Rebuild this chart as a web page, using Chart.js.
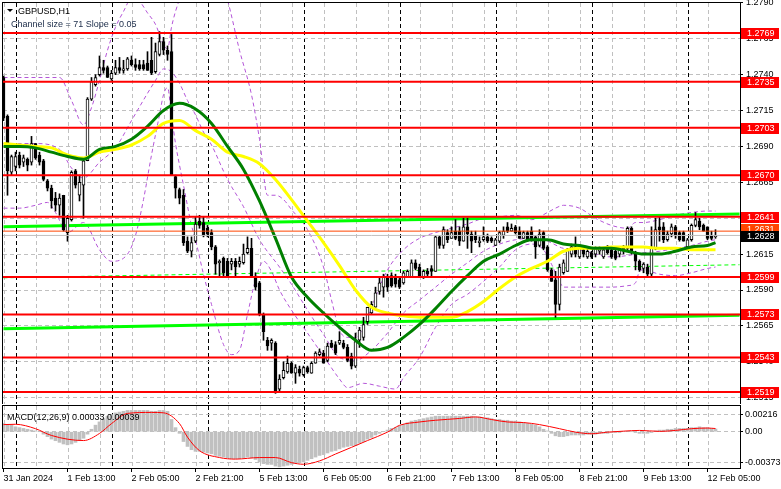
<!DOCTYPE html>
<html>
<head>
<meta charset="utf-8">
<script src="https://cdn.jsdelivr.net/npm/chart.js@4.4.1/dist/chart.umd.min.js"></script>
<style>
  html, body { margin: 0; padding: 0; background: #fff; }
  #wrap { position: relative; width: 781px; height: 489px; overflow: hidden; }
  #mainChart { position: absolute; left: 0; top: 0; }
  #macdChart { position: absolute; left: 0; top: 404px; }
</style>
</head>
<body>
<div id="wrap">
  <canvas id="mainChart" width="781" height="404"></canvas>
  <canvas id="macdChart" width="781" height="85"></canvas>
</div>
<script>
// GBPUSD H1 candles, bar 0 = 31 Jan 21:00
const opens = [
  1.2738,1.2711,1.2672,1.2676,1.2684,1.2679,1.2681,1.2679,1.2692,1.2684,
  1.2680,1.2666,1.2661,1.2654,1.2649,1.2656,1.2630,1.2639,1.2673,1.2656,
  1.2663,1.2680,1.2723,1.2733,1.2740,1.2745,1.2745,1.2737,1.2741,1.2745,
  1.2743,1.2744,1.2750,1.2747,1.2747,1.2747,1.2748,1.2750,1.2742,1.2754,
  1.2763,1.2757,1.2756,1.2669,1.2660,1.2656,1.2624,1.2617,1.2624,1.2638,
  1.2637,1.2633,1.2630,1.2620,1.2609,1.2612,1.2610,1.2608,1.2610,1.2608,
  1.2609,1.2616,1.2619,1.2599,1.2595,1.2573,1.2555,1.2553,1.2553,1.2521,
  1.2529,1.2533,1.2539,1.2532,1.2535,1.2531,1.2536,1.2532,1.2539,1.2545,
  1.2546,1.2541,1.2553,1.2552,1.2553,1.2553,1.2550,1.2544,1.2537,1.2555,
  1.2557,1.2568,1.2574,1.2578,1.2589,1.2592,1.2599,1.2600,1.2599,1.2597,
  1.2595,1.2599,1.2599,1.2609,1.2606,1.2599,1.2603,1.2605,1.2603,1.2627,
  1.2621,1.2630,1.2626,1.2631,1.2631,1.2624,1.2634,1.2629,1.2628,1.2623,
  1.2625,1.2627,1.2626,1.2621,1.2624,1.2628,1.2634,1.2631,1.2634,1.2631,
  1.2626,1.2630,1.2631,1.2627,1.2621,1.2630,1.2620,1.2604,1.2597,1.2580,
  1.2602,1.2603,1.2615,1.2620,1.2613,1.2618,1.2613,1.2616,1.2615,1.2617,
  1.2613,1.2619,1.2618,1.2617,1.2615,1.2619,1.2619,1.2633,1.2616,1.2610,
  1.2605,1.2606,1.2601,1.2619,1.2634,1.2634,1.2625,1.2629,1.2634,1.2630,
  1.2630,1.2620,1.2625,1.2635,1.2638,1.2635,1.2634,1.2628,1.2627
];
const highs = [
  1.2739,1.2712,1.2684,1.2686,1.2686,1.2684,1.2682,1.2697,1.2692,1.2686,
  1.2681,1.2667,1.2663,1.2658,1.2657,1.2656,1.2642,1.2673,1.2674,1.2670,
  1.2682,1.2724,1.2738,1.2740,1.2753,1.2750,1.2746,1.2743,1.2750,1.2752,
  1.2750,1.2752,1.2753,1.2751,1.2750,1.2750,1.2756,1.2766,1.2762,1.2770,
  1.2766,1.2760,1.2768,1.2670,1.2661,1.2660,1.2627,1.2627,1.2641,1.2642,
  1.2641,1.2635,1.2632,1.2621,1.2611,1.2613,1.2612,1.2612,1.2612,1.2613,
  1.2622,1.2627,1.2626,1.2602,1.2596,1.2574,1.2557,1.2556,1.2554,1.2531,
  1.2540,1.2544,1.2540,1.2538,1.2537,1.2537,1.2537,1.2540,1.2547,1.2549,
  1.2548,1.2553,1.2555,1.2554,1.2561,1.2555,1.2552,1.2546,1.2560,1.2564,
  1.2571,1.2578,1.2582,1.2592,1.2599,1.2601,1.2601,1.2602,1.2601,1.2599,
  1.2603,1.2604,1.2611,1.2611,1.2608,1.2604,1.2605,1.2607,1.2628,1.2628,
  1.2634,1.2632,1.2634,1.2639,1.2634,1.2640,1.2640,1.2631,1.2631,1.2627,
  1.2634,1.2629,1.2627,1.2626,1.2631,1.2634,1.2637,1.2636,1.2635,1.2634,
  1.2631,1.2631,1.2634,1.2628,1.2632,1.2631,1.2621,1.2605,1.2603,1.2608,
  1.2611,1.2619,1.2622,1.2627,1.2621,1.2620,1.2619,1.2617,1.2620,1.2620,
  1.2619,1.2621,1.2620,1.2618,1.2619,1.2621,1.2634,1.2634,1.2617,1.2611,
  1.2609,1.2608,1.2634,1.2640,1.2641,1.2637,1.2631,1.2636,1.2635,1.2631,
  1.2631,1.2626,1.2636,1.2644,1.2640,1.2636,1.2634,1.2631,1.2632
];
const lows = [
  1.2708,1.2656,1.2670,1.2673,1.2675,1.2676,1.2673,1.2677,1.2681,1.2677,
  1.2666,1.2659,1.2647,1.2645,1.2642,1.2631,1.2624,1.2638,1.2661,1.2652,
  1.2640,1.2680,1.2722,1.2732,1.2739,1.2741,1.2738,1.2736,1.2740,1.2741,
  1.2741,1.2743,1.2746,1.2743,1.2743,1.2743,1.2743,1.2740,1.2741,1.2753,
  1.2754,1.2750,1.2670,1.2654,1.2650,1.2621,1.2616,1.2613,1.2623,1.2633,
  1.2627,1.2627,1.2618,1.2601,1.2599,1.2599,1.2599,1.2604,1.2600,1.2606,
  1.2608,1.2615,1.2599,1.2590,1.2572,1.2555,1.2548,1.2548,1.2518,1.2519,
  1.2528,1.2532,1.2532,1.2525,1.2530,1.2530,1.2532,1.2532,1.2539,1.2544,
  1.2539,1.2540,1.2550,1.2545,1.2552,1.2549,1.2540,1.2535,1.2536,1.2550,
  1.2555,1.2566,1.2573,1.2578,1.2587,1.2585,1.2589,1.2592,1.2592,1.2591,
  1.2594,1.2599,1.2599,1.2604,1.2599,1.2598,1.2600,1.2599,1.2603,1.2619,
  1.2619,1.2623,1.2626,1.2625,1.2621,1.2624,1.2619,1.2616,1.2623,1.2620,
  1.2624,1.2623,1.2623,1.2621,1.2623,1.2626,1.2630,1.2631,1.2629,1.2626,
  1.2626,1.2624,1.2624,1.2612,1.2620,1.2618,1.2603,1.2596,1.2571,1.2576,
  1.2601,1.2603,1.2613,1.2613,1.2612,1.2613,1.2612,1.2612,1.2613,1.2615,
  1.2612,1.2615,1.2612,1.2611,1.2613,1.2615,1.2618,1.2615,1.2604,1.2603,
  1.2602,1.2599,1.2599,1.2618,1.2624,1.2623,1.2624,1.2627,1.2626,1.2624,
  1.2624,1.2619,1.2624,1.2634,1.2632,1.2631,1.2625,1.2625,1.2626
];
const closes = [
  1.2710,1.2673,1.2683,1.2683,1.2677,1.2682,1.2677,1.2692,1.2682,1.2679,
  1.2667,1.2661,1.2652,1.2649,1.2654,1.2632,1.2640,1.2672,1.2663,1.2665,
  1.2680,1.2723,1.2735,1.2738,1.2745,1.2743,1.2738,1.2741,1.2745,1.2743,
  1.2744,1.2751,1.2747,1.2745,1.2744,1.2744,1.2743,1.2741,1.2756,1.2763,
  1.2757,1.2754,1.2670,1.2661,1.2654,1.2623,1.2617,1.2623,1.2636,1.2635,
  1.2628,1.2629,1.2620,1.2608,1.2610,1.2602,1.2599,1.2610,1.2606,1.2610,
  1.2615,1.2619,1.2599,1.2592,1.2573,1.2561,1.2551,1.2555,1.2519,1.2528,
  1.2534,1.2539,1.2532,1.2536,1.2532,1.2536,1.2533,1.2539,1.2546,1.2547,
  1.2539,1.2551,1.2550,1.2546,1.2555,1.2550,1.2541,1.2537,1.2554,1.2562,
  1.2566,1.2578,1.2580,1.2588,1.2595,1.2599,1.2592,1.2593,1.2594,1.2592,
  1.2602,1.2603,1.2609,1.2605,1.2599,1.2603,1.2601,1.2603,1.2627,1.2621,
  1.2632,1.2625,1.2630,1.2626,1.2624,1.2634,1.2629,1.2624,1.2625,1.2624,
  1.2627,1.2624,1.2624,1.2625,1.2630,1.2631,1.2631,1.2633,1.2630,1.2626,
  1.2630,1.2625,1.2625,1.2620,1.2629,1.2619,1.2604,1.2596,1.2580,1.2606,
  1.2609,1.2618,1.2620,1.2615,1.2619,1.2615,1.2617,1.2613,1.2619,1.2619,
  1.2618,1.2616,1.2613,1.2612,1.2619,1.2617,1.2633,1.2616,1.2610,1.2604,
  1.2608,1.2601,1.2619,1.2632,1.2632,1.2625,1.2629,1.2634,1.2628,1.2625,
  1.2624,1.2625,1.2635,1.2639,1.2634,1.2631,1.2626,1.2626,1.2628
];

// moving averages, read every 4 bars
const maIdx = [0,4,8,12,16,20,24,28,32,36,40,44,48,52,56,60,64,68,72,76,80,84,88,92,96,100,104,108,112,116,120,124,128,132,136,140,144,148,152,156,160,164,168,172,176,178];
const greenMa = [1.2690,1.2690,1.2689,1.2686,1.2683,1.2681,1.2688,1.2690,1.2695,1.2704,1.2715,1.2720,1.2716,1.2706,1.2690,1.2674,1.2652,1.2626,1.2599,1.2585,1.2574,1.2564,1.2555,1.2548,1.2550,1.2557,1.2566,1.2577,1.2589,1.2600,1.2610,1.2615,1.2621,1.2625,1.2625,1.2622,1.2621,1.2619,1.2619,1.2617,1.2615,1.2615,1.2617,1.2620,1.2621,1.2623];
const yellowMa = [1.2692,1.2691,1.2690,1.2689,1.2684,1.2682,1.2686,1.2688,1.2691,1.2697,1.2706,1.2708,1.2701,1.2695,1.2686,1.2683,1.2678,1.2667,1.2653,1.2638,1.2623,1.2607,1.2590,1.2578,1.2574,1.2572,1.2571,1.2571,1.2571,1.2575,1.2582,1.2591,1.2599,1.2605,1.2610,1.2617,1.2619,1.2619,1.2620,1.2620,1.2620,1.2619,1.2619,1.2618,1.2618,1.2618];

// purple dashed bands (upper, middle, lower), read at irregular bars
const upperIdx = [0,8,14,17,20,22,24,26,28,30,32,34,36,38,40,41,42,43,45,48,52,55,56,59,62,64,66,68,70,72,76,80,82,84,86,88,90,92,96,100,104,108,112,116,120,124,128,132,136,138,140,144,148,152,156,158,160,164,168,172,176,178];
const upperBand = [1.2738,1.2738,1.2738,1.2722,1.2705,1.2717,1.2736,1.2757,1.2773,1.2784,1.2793,1.2791,1.2783,1.2775,1.2761,1.2758,1.2773,1.2784,1.2799,1.2813,1.2813,1.2800,1.2792,1.2757,1.2726,1.2695,1.2656,1.2656,1.2653,1.2646,1.2632,1.2606,1.2583,1.2562,1.2557,1.2557,1.2564,1.2578,1.2604,1.2618,1.2626,1.2630,1.2633,1.2636,1.2640,1.2641,1.2642,1.2639,1.2644,1.2647,1.2649,1.2647,1.2640,1.2635,1.2633,1.2637,1.2637,1.2639,1.2642,1.2644,1.2645,1.2645];
const midIdx = [0,8,14,17,20,24,28,32,36,38,40,42,44,46,48,50,52,56,60,64,69,72,76,80,84,88,92,96,100,104,108,112,116,120,124,128,132,136,140,144,148,152,156,160,164,168,172,176,178];
const midBand = [1.2692,1.2692,1.2688,1.2675,1.2668,1.2679,1.2689,1.2708,1.2727,1.2736,1.2744,1.2742,1.2734,1.2722,1.2712,1.2700,1.2691,1.2667,1.2648,1.2625,1.2606,1.2594,1.2576,1.2559,1.2543,1.2541,1.2548,1.2560,1.2574,1.2583,1.2592,1.2601,1.2609,1.2617,1.2622,1.2625,1.2626,1.2624,1.2619,1.2618,1.2615,1.2613,1.2614,1.2616,1.2617,1.2619,1.2621,1.2624,1.2625];
const lowerIdx = [0,4,8,11,13,16,20,24,27,31,33,35,37,39,40,41,42,43,44,45,47,48,50,52,55,57,59,61,63,65,67,69,72,76,80,84,86,90,94,98,100,104,108,112,116,120,124,128,132,135,137,139,140,144,148,152,156,158,159,160,164,168,172,176,178];
const lowerBand = [1.2647,1.2647,1.2649,1.2651,1.2644,1.2630,1.2637,1.2618,1.2610,1.2615,1.2628,1.2653,1.2684,1.2712,1.2726,1.2731,1.2712,1.2692,1.2677,1.2663,1.2635,1.2625,1.2601,1.2580,1.2552,1.2545,1.2548,1.2573,1.2597,1.2610,1.2603,1.2590,1.2576,1.2560,1.2544,1.2528,1.2522,1.2525,1.2523,1.2521,1.2529,1.2543,1.2564,1.2580,1.2587,1.2596,1.2606,1.2618,1.2622,1.2618,1.2608,1.2596,1.2592,1.2592,1.2592,1.2592,1.2593,1.2595,1.2603,1.2604,1.2601,1.2600,1.2602,1.2605,1.2606];

// regression channel (start, end)
const channelIdx = [0, 184];
const channelUpper = [1.2634, 1.2643];
const channelMid = [1.25985, 1.26076];
const channelLower = [1.2563, 1.25724];

const levels = [1.2769, 1.2735, 1.2703, 1.2670, 1.2641, 1.2599, 1.2573, 1.2543, 1.2519];
const askPrice = 1.2631;
const bidPrice = 1.2628;
const priceTicks = [1.2790,1.2765,1.2740,1.2715,1.2690,1.2665,1.2640,1.2615,1.2590,1.2565,1.2540,1.2515];

// MACD(12,26,9)
const macdMain = [
  0.0010,0.0009,0.0008,0.0006,0.0005,0.0004,0.0003,0.0002,0.0001,0.0000,
  -0.0003,-0.0006,-0.0009,-0.0011,-0.0013,-0.0015,-0.0016,-0.0015,-0.0013,-0.0011,
  -0.0008,-0.0003,0.0003,0.0008,0.0012,0.0016,0.0019,0.0021,0.0023,0.0024,
  0.0025,0.0026,0.0026,0.0026,0.0026,0.0026,0.0026,0.0025,0.0025,0.0026,
  0.0026,0.0025,0.0015,0.0005,-0.0002,-0.0012,-0.0018,-0.0022,-0.0024,-0.0024,
  -0.0025,-0.0026,-0.0027,-0.0029,-0.0030,-0.0031,-0.0032,-0.0033,-0.0033,-0.0033,
  -0.0032,-0.0031,-0.0032,-0.0034,-0.0037,-0.0039,-0.0040,-0.0040,-0.0042,-0.0043,
  -0.0042,-0.0041,-0.0040,-0.0039,-0.0038,-0.0037,-0.0035,-0.0033,-0.0031,-0.0029,
  -0.0028,-0.0026,-0.0024,-0.0023,-0.0021,-0.0019,-0.0018,-0.0017,-0.0017,-0.0014,
  -0.0012,-0.0009,-0.0007,-0.0004,-0.0002,0.0000,0.0002,0.0004,0.0005,0.0007,
  0.0009,0.0011,0.0013,0.0014,0.0015,0.0016,0.0017,0.0018,0.0019,0.0019,
  0.0019,0.0019,0.0019,0.0019,0.0019,0.0019,0.0019,0.0019,0.0018,0.0018,
  0.0017,0.0017,0.0016,0.0015,0.0015,0.0014,0.0014,0.0013,0.0013,0.0012,
  0.0011,0.0010,0.0009,0.0008,0.0006,0.0003,0.0001,-0.0002,-0.0005,-0.0006,
  -0.0006,-0.0005,-0.0004,-0.0004,-0.0004,-0.0004,-0.0003,-0.0003,-0.0003,-0.0002,
  -0.0002,-0.0002,-0.0001,-0.0001,-0.0001,0.0000,0.0000,0.0000,-0.0001,-0.0002,
  -0.0002,-0.0002,-0.0001,0.0001,0.0002,0.0002,0.0003,0.0003,0.0004,0.0004,
  0.0004,0.0004,0.0005,0.0005,0.0006,0.0005,0.0005,0.0004,0.00033
];
const signalIdx = [0,3,8,12,20,24,27,31,37,40,44,46,49,54,58,64,68,72,75,79,83,87,91,96,99,104,108,114,118,122,126,130,134,139,143,147,151,155,159,164,168,172,176,178];
const signalVals = [0.00087,0.00091,0.00037,-0.00046,-0.00108,-0.00021,0.00099,0.00224,0.00236,0.00231,0.00099,-0.00067,-0.00232,-0.00316,-0.00335,-0.00316,-0.00316,-0.00378,-0.00398,-0.00357,-0.00273,-0.00191,-0.00108,-0.00005,0.00078,0.00119,0.0014,0.00162,0.00181,0.00149,0.00119,0.00112,0.00087,0.00037,-0.00005,-0.00025,-0.00005,0.00007,0.00016,0.00004,0.00016,0.00037,0.00045,0.00039];
const macdTicks = [0.00216, 0, -0.00373];

const labelIdx = [0,16,32,48,64,80,96,112,128,144,160,176];
const timeLabels = ['31 Jan 2024','1 Feb 13:00','2 Feb 05:00','2 Feb 21:00','5 Feb 13:00','6 Feb 05:00','6 Feb 21:00','7 Feb 13:00','8 Feb 05:00','8 Feb 21:00','9 Feb 13:00','12 Feb 05:00'];
const dayStarts = [3,27,51,75,99,123,147,171];

const FONT = "'Liberation Sans', Arial, sans-serif";
Chart.defaults.font.family = FONT;
Chart.defaults.font.size = 9;
Chart.defaults.color = '#000';

const xMin = -0.125, xMax = 184.125;
const gridTicks = [];
for (let i = 0; i < 184; i += 8) gridTicks.push(i + 0.25);
dayStarts.forEach(d => gridTicks.push(d + 0.25));
gridTicks.sort((a, b) => a - b);

const isDay = v => dayStarts.includes(v - 0.25);

function xScale(extra) {
  return Object.assign({
    type: 'linear', min: xMin, max: xMax, offset: false,
    afterBuildTicks: s => { s.ticks = gridTicks.map(v => ({ value: v })); },
    afterFit: s => { s.paddingLeft = 0; s.paddingRight = 0; },
    ticks: { display: false },
    grid: { offset: false, drawTicks: false, lineWidth: 1,
            color: c => isDay(c.tick.value) ? '#000' : '#c0c0c0' },
    border: { display: false, dash: [4, 3] }
  }, extra || {});
}

function pts(idx, vals) { return idx.map((x, k) => ({ x: x, y: vals[k] })); }
function hline(v, color, width, dash, order) {
  return { type: 'line', data: [{ x: xMin, y: v }, { x: xMax, y: v }], borderColor: color,
           borderWidth: width, borderDash: dash || [], pointRadius: 0, order: order };
}
function band(idx, vals) {
  return { type: 'line', data: pts(idx, vals), borderColor: '#b455d8', borderWidth: 1, borderDash: [4, 3],
           pointRadius: 0, cubicInterpolationMode: 'monotone', order: 9 };
}

const mainDeco = {
  id: 'mainDeco',
  afterDraw(chart) {
    const { ctx, chartArea: a } = chart;
    const y = chart.scales.y;
    ctx.save();
    ctx.strokeStyle = '#000';
    ctx.lineWidth = 1;
    ctx.strokeRect(a.left - 0.5, a.top - 0.5, a.right - a.left + 1, a.bottom - a.top + 1);
    ctx.font = '9px ' + FONT;
    ctx.textBaseline = 'middle';
    const box = (v, bg, shift) => {
      const py = Math.round(y.getPixelForValue(v)) + (shift || 0);
      ctx.fillStyle = bg;
      ctx.fillRect(a.right + 1, py - 5, 38, 11);
      ctx.fillStyle = '#fff';
      ctx.fillText(v.toFixed(4), a.right + 7, py + 1);
    };
    levels.forEach(v => box(v, '#ff0000'));
    box(askPrice, '#ff4500', -2);
    box(bidPrice, '#000000', 1);

    ctx.fillStyle = '#000';
    ctx.beginPath();
    ctx.moveTo(7, 9); ctx.lineTo(13, 9); ctx.lineTo(10, 12); ctx.closePath();
    ctx.fill();
    ctx.textBaseline = 'alphabetic';
    ctx.fillText('GBPUSD,H1', 18, 14);
    ctx.fillStyle = '#1a2b48';
    ctx.fillText('Channel size = 71 Slope = 0.05', 11, 27);
    ctx.restore();
  }
};

const yMax = 1.27899, yMin = 1.25106;

new Chart(document.getElementById('mainChart'), {
  type: 'line',
  data: {
    datasets: [
      band(upperIdx, upperBand),
      band(midIdx, midBand),
      band(lowerIdx, lowerBand),
      { type: 'line', data: pts(channelIdx, channelUpper), borderColor: '#00ff00', borderWidth: 3, pointRadius: 0, order: 8 },
      { type: 'line', data: pts(channelIdx, channelMid), borderColor: '#00ff00', borderWidth: 1, borderDash: [4, 3], pointRadius: 0, order: 8 },
      { type: 'line', data: pts(channelIdx, channelLower), borderColor: '#00ff00', borderWidth: 3, pointRadius: 0, order: 8 },
      { type: 'bar', data: highs.map((h, i) => ({ x: i, y: [lows[i], h] })), backgroundColor: '#000', barThickness: 1, grouped: false, order: 7 },
      { type: 'bar', data: opens.map((o, i) => ({ x: i, y: [o, closes[i]] })),
        backgroundColor: opens.map((o, i) => closes[i] >= o ? '#ffffff' : '#000000'),
        borderColor: '#000', borderWidth: 1, borderSkipped: false, barThickness: 3, grouped: false, order: 6 },
      { type: 'line', data: pts(maIdx, yellowMa), borderColor: '#ffff00', borderWidth: 3, pointRadius: 0, cubicInterpolationMode: 'monotone', order: 5 },
      { type: 'line', data: pts(maIdx, greenMa), borderColor: '#008000', borderWidth: 3, pointRadius: 0, cubicInterpolationMode: 'monotone', order: 4 },
      ...levels.map(v => hline(v, '#ff0000', 2, [], 3)),
      hline(askPrice, '#ff4500', 1, [], 2),
      hline(bidPrice, '#c0c0c0', 1, [], 2)
    ]
  },
  options: {
    responsive: false, animation: false, events: [],
    layout: { padding: { left: 3, top: 3, right: 0, bottom: 0 } },
    plugins: { legend: { display: false }, tooltip: { enabled: false } },
    scales: {
      x: xScale(),
      y: {
        type: 'linear', position: 'right', min: yMin, max: yMax, beginAtZero: false,
        afterBuildTicks: s => { s.ticks = priceTicks.map(v => ({ value: v })); },
        afterFit: s => { s.width = 41; s.paddingTop = 0; s.paddingBottom = 0; },
        ticks: { callback: v => v.toFixed(4), padding: 3, color: '#000' },
        grid: { color: '#c0c0c0', tickColor: '#000', tickLength: 3, tickBorderDash: [] },
        border: { display: false, dash: [4, 3] }
      }
    }
  },
  plugins: [mainDeco]
});

const macdDeco = {
  id: 'macdDeco',
  afterDraw(chart) {
    const { ctx, chartArea: a } = chart;
    ctx.save();
    ctx.strokeStyle = '#000';
    ctx.lineWidth = 1;
    ctx.strokeRect(a.left - 0.5, a.top - 0.5, a.right - a.left + 1, a.bottom - a.top + 1);
    ctx.font = '9px ' + FONT;
    ctx.fillStyle = '#000';
    ctx.fillText('MACD(12,26,9) 0.00033 0.00039', 7, 16);
    ctx.restore();
  }
};

const labelTicks = labelIdx.slice();
new Chart(document.getElementById('macdChart'), {
  type: 'line',
  data: {
    datasets: [
      { type: 'bar', data: macdMain.map((v, i) => ({ x: i, y: v })), backgroundColor: '#c0c0c0', barThickness: 3, grouped: false, order: 3 },
      { type: 'line', data: pts(signalIdx, signalVals), borderColor: '#ff0000', borderWidth: 1, pointRadius: 0, cubicInterpolationMode: 'monotone', order: 1 }
    ]
  },
  options: {
    responsive: false, animation: false, events: [],
    layout: { padding: { left: 3, top: 2, right: 0, bottom: 0 } },
    plugins: { legend: { display: false }, tooltip: { enabled: false } },
    scales: {
      x: xScale({
        afterBuildTicks: s => { s.ticks = gridTicks.concat(labelTicks).sort((a, b) => a - b).map(v => ({ value: v })); },
        afterFit: s => { s.height = 21; s.paddingLeft = 0; s.paddingRight = 0; },
        ticks: { display: true, autoSkip: false, maxRotation: 0, align: 'start', padding: 1,
                 callback: v => { const k = labelIdx.indexOf(v); return k >= 0 ? timeLabels[k] : ''; } },
        grid: { offset: false, drawTicks: true, tickLength: 4, lineWidth: 1, tickBorderDash: [],
                color: c => labelIdx.includes(c.tick.value) ? 'rgba(0,0,0,0)' : (isDay(c.tick.value) ? '#000' : '#c0c0c0'),
                tickColor: c => labelIdx.includes(c.tick.value) ? '#000' : 'rgba(0,0,0,0)' }
      }),
      y: {
        type: 'linear', position: 'right', min: -0.004436, max: 0.003144, beginAtZero: false,
        afterBuildTicks: s => { s.ticks = macdTicks.map(v => ({ value: v })); },
        afterFit: s => { s.width = 41; s.paddingTop = 0; s.paddingBottom = 0; },
        ticks: { callback: v => v === 0 ? '0.00' : v.toFixed(5), padding: 2, color: '#000' },
        grid: { color: '#c0c0c0', tickColor: '#000', tickLength: 3, tickBorderDash: [] },
        border: { display: false, dash: [4, 3] }
      }
    }
  },
  plugins: [macdDeco]
});
</script>
</body>
</html>
